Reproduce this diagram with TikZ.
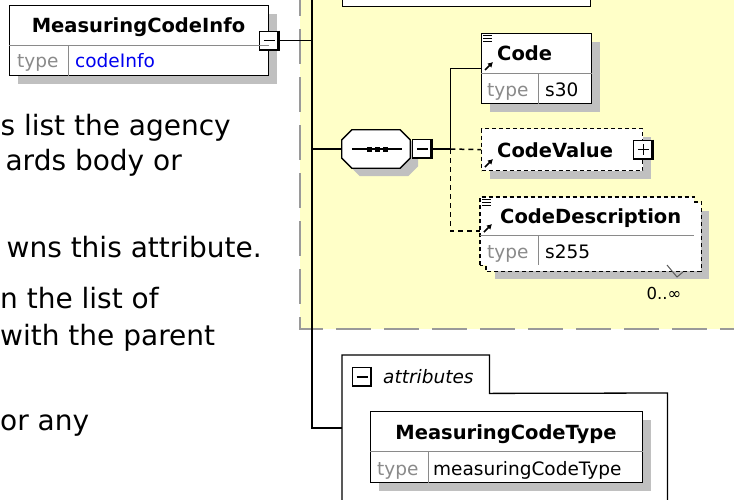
\documentclass[tikz,border=0pt]{standalone}
\usepackage{fontspec}
\setmainfont{DejaVu Sans}
\usetikzlibrary{arrows.meta,positioning,shadows}
\definecolor{ctypebg}{HTML}{FFFFC8}
\definecolor{ctypeline}{HTML}{9A9A9A}
\definecolor{shadowgray}{HTML}{C0C0C0}
\definecolor{typegray}{HTML}{8A8A8A}
\definecolor{rulegray}{HTML}{8A8A8A}
\definecolor{linkblue}{HTML}{0000F0}
\newcommand{\xsdhead}{\fontsize{19.5}{22}\selectfont\bfseries}
\newcommand{\xsdcell}{\fontsize{18.5}{21}\selectfont}
\newcommand{\xsdnote}{\fontsize{28}{34}\selectfont}
\tikzset{
  elembox/.style={draw=black,fill=white,line width=1.3pt,inner sep=0pt,anchor=north west,
                  drop shadow={shadow xshift=8pt,shadow yshift=-8pt,fill=shadowgray,opacity=1}},
  optbox/.style={elembox,dash pattern=on 4pt off 3pt},
  plainbox/.style={draw=black,fill=white,line width=1.3pt,inner sep=0pt},
  octpath/.style={insert path={([xshift=10pt]#1.north west) -- ([xshift=-10pt]#1.north east)
      -- ([yshift=-10pt]#1.north east) -- ([yshift=10pt]#1.south east) -- ([xshift=-10pt]#1.south east)
      -- ([xshift=10pt]#1.south west) -- ([yshift=10pt]#1.south west) -- ([yshift=-10pt]#1.north west) -- cycle}},
  minusbtn/.style={draw=black,fill=white,line width=1.2pt,minimum size=19pt,inner sep=0pt,
                   path picture={\draw[line width=1.3pt]
                     ([xshift=4pt]path picture bounding box.west) -- ([xshift=-4pt]path picture bounding box.east);}},
  plusbtn/.style={draw=black,fill=white,line width=1.2pt,minimum size=19pt,inner sep=0pt,
                  path picture={\draw[line width=1.3pt]
                     ([xshift=4pt]path picture bounding box.west) -- ([xshift=-4pt]path picture bounding box.east)
                     ([yshift=-4pt]path picture bounding box.north) -- ([yshift=4pt]path picture bounding box.south);}},
  conn/.style={line width=1.5pt},
  optconn/.style={conn,dash pattern=on 5pt off 4pt},
  cellrule/.style={line width=1pt,draw=rulegray},
  hdr/.style={font=\xsdhead,inner sep=0pt,anchor=base west},
  cell/.style={font=\xsdcell,inner sep=0pt,anchor=base west},
  typelbl/.style={cell,text=typegray},
  note/.style={font=\xsdnote,inner sep=0pt},
  refarrow/.style={-{Latex[length=5pt,width=6pt]},line width=1.6pt}
}
\begin{document}
\begin{tikzpicture}[x=1pt,y=-1pt]
  \path[use as bounding box,fill=white] (0,0) rectangle (734,499);
  % complex type region
  \fill[ctypebg] (300,-19) rectangle (760,329);
  \draw[ctypeline,line width=1.8pt,dash pattern=on 35pt off 13pt] (300,-19) -- (300,329) -- (760,329);

  % documentation text
  \foreach \nm/\an/\xe/\yb/\txt in {noteA/base east/231/135/{s list the agency},
      noteB/base east/182/170/{ards body or},noteC/base east/262/257/{wns this attribute.},
      noteD/base west/0/308/{n the list of},noteE/base west/0/345/{with the parent},
      noteF/base west/0/430/{or any}}
    \node[note,anchor=\an] (\nm) at (\xe,\yb) {\txt};

  % element boxes
  \node[elembox,minimum width=259pt,minimum height=70pt] (info) at (9,5) {};
  \node[plainbox,anchor=south west,minimum width=248pt,minimum height=40pt] (topbox) at (342,7) {};
  \node[inner sep=0pt,minimum width=68pt,minimum height=38pt] (seqsh) at (384,157) {};
  \node[inner sep=0pt,minimum width=68pt,minimum height=38pt] (seq) at (376,149) {};
  \fill[shadowgray,octpath=seqsh];
  \draw[fill=white,line width=1.3pt,octpath=seq];
  \node[elembox,minimum width=110pt,minimum height=70pt] (code) at (481,33) {};
  \node[optbox,minimum width=161pt,minimum height=42pt] (cvalue) at (481,128) {};
  \node[elembox,draw=none,minimum width=214pt,minimum height=68pt] (cdescbk) at (486,202) {};
  \node[fill=white,inner sep=0pt,anchor=north west,minimum width=214pt,minimum height=68pt] (cdesc) at (480,197) {};
  \draw[line width=1.3pt,dash pattern=on 4pt off 3pt] (cdesc.south west) -- (cdesc.north west)
    -- (cdesc.north east) -- (cdesc.north east |- cdescbk.north) -- (cdescbk.north east)
    -- (cdescbk.south east) -- (cdescbk.south west) -- (cdescbk.south west |- cdesc.south) -- cycle;

  % attributes group
  \node[fill=white,inner sep=0pt,anchor=north west,minimum width=147pt,minimum height=38pt] (attrtab) at (342,355) {};
  \node[fill=white,inner sep=0pt,anchor=north west,minimum width=325pt,minimum height=130pt] (attrbody) at (342,393) {};
  \draw[line width=1.3pt] (attrbody.south west) -- (attrtab.north west) -- (attrtab.north east)
    -- (attrtab.south east) -- (attrbody.north east) -- (attrbody.south east);
  \node[elembox,minimum width=272pt,minimum height=71pt] (mtype) at (370,411) {};

  % buttons
  \node[minusbtn] (infobtn) at (info.east) {};
  \node[minusbtn,anchor=west] (seqbtn) at ([xshift=2pt]seq.east) {};
  \node[plusbtn] (cvaluebtn) at (cvalue.east) {};
  \node[minusbtn] (attrbtn) at ([shift={(20pt,-22pt)}]attrtab.north west) {};
  \foreach \b in {infobtn,seqbtn,cvaluebtn,attrbtn}
    \draw[line width=2.4pt] ([xshift=-1pt]\b.north east) -- ([shift={(-1pt,1pt)}]\b.south east) -- ([yshift=1pt]\b.south west);

  % cell rules
  \foreach \n/\hh/\tw in {info/40/59,code/40/57,cdesc/38/58,mtype/40/58}{
    \draw[cellrule] ([yshift=-\hh pt]\n.north west) -- ([yshift=-\hh pt]\n.north east);
    \draw[cellrule] ([shift={(\tw pt,-\hh pt)}]\n.north west) -- ([xshift=\tw pt]\n.south west);
  }

  % labels
  \node[hdr,anchor=base] (infoname) at (138.5,32) {MeasuringCodeInfo};
  \node[typelbl] (infotype) at (17,67) {type};
  \node[cell,text=linkblue] (infotval) at (75,67) {codeInfo};
  \node[hdr] (codename) at (497,60) {Code};
  \node[typelbl] (codetype) at (487,96) {type};
  \node[cell] (codetval) at (545,96) {s30};
  \node[hdr] (cvaluename) at (497,157) {CodeValue};
  \node[hdr] (cdescname) at (500,223) {CodeDescription};
  \node[typelbl] (cdesctype) at (487,258) {type};
  \node[cell] (cdesctval) at (545,258) {s255};
  \node[cell,font=\fontsize{16.5}{18}\selectfont,anchor=base] (cdescocc) at (664,299) {0..∞};
  \node[cell,font=\xsdcell\itshape] (attrname) at (383,383) {attributes};
  \node[hdr,anchor=base] (mtypename) at (506,439) {MeasuringCodeType};
  \node[typelbl] (mtypetype) at (377,475) {type};
  \node[cell] (mtypetval) at (433,475) {measuringCodeType};

  % icons
  \foreach \n in {code,cdesc}
    \foreach \dy in {2.5,5.5,8.5}
      \draw[line width=1.1pt] ([shift={(2pt,-\dy pt)}]\n.north west) -- ++(9pt,0pt);
  \foreach \n/\hh in {code/40,cvalue/42,cdesc/38}
    \draw[refarrow] ([shift={(4pt,-\hh pt)}]\n.north west) ++(0pt,3pt) -- ++(8pt,8pt);

  % occurrence mark
  \draw[line width=1pt,black!65] (667,265) -- (677,277) -- (683,272);

  % sequence symbol
  \draw[line width=1.5pt] ([xshift=10pt]seq.west) -- ([xshift=-8pt]seq.east);
  \foreach \dx in {-6.5,1.5,9.5}
    \fill ([xshift=\dx pt]seq.center) ++(-2.5pt,-2.5pt) rectangle ++(5pt,5pt);

  % connectors
  \coordinate (trunktop) at (312,-19);
  \coordinate (attrjoin) at (342,428);
  \coordinate (fork) at ([xshift=18pt]seqbtn.east);
  \draw[conn] (trunktop) |- (attrjoin);
  \draw[conn] (infobtn.east) -- (infobtn.east -| trunktop);
  \draw[conn] (seq.west -| trunktop) -- (seq.west);
  \draw[conn] (seqbtn.east) -- (fork) |- (code.west);
  \draw[optconn] (fork) -- (cvalue.west);
  \draw[optconn] (fork) |- (cdesc.west);
\end{tikzpicture}
\end{document}
